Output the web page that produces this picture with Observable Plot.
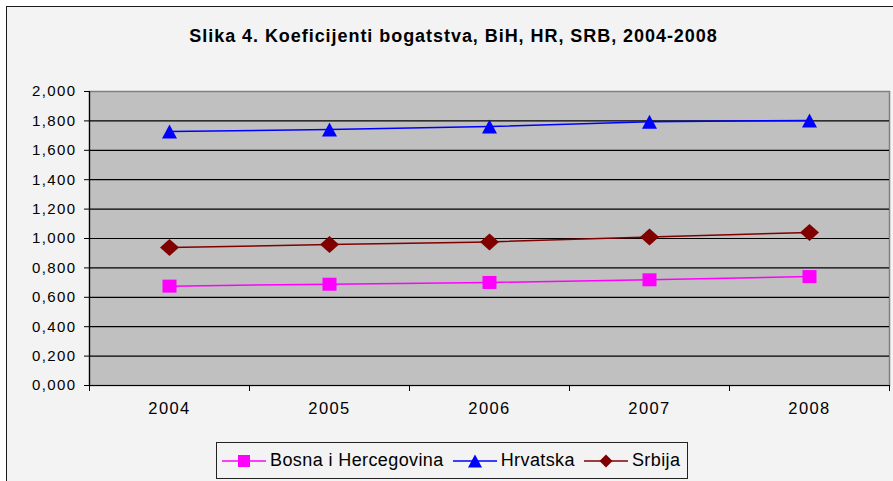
<!DOCTYPE html>
<html>
<head>
<meta charset="utf-8">
<script src="https://cdn.jsdelivr.net/npm/d3@7"></script>
<script src="https://cdn.jsdelivr.net/npm/@observablehq/plot@0.6"></script>
<style>
  html, body { margin: 0; padding: 0; background: #ffffff; width: 893px; height: 481px; overflow: hidden; }
  #frame { position: absolute; left: 6px; top: 6px; width: 900px; height: 490px; border: 1.5px solid #1a1a1a; background: #f3f3f3; box-sizing: border-box; }
  #title { position: absolute; left: 0; top: 26px; width: 907px; text-align: center; font-family: "Liberation Sans", Arial, sans-serif; font-weight: bold; font-size: 18px; letter-spacing: 0.95px; color: #000; }
  #chart { position: absolute; left: 0; top: 0; }
  #chart text { letter-spacing: 1.4px; }
  #legend { position: absolute; left: 216px; top: 442px; width: 472px; height: 37px; border: 1px solid #222; box-sizing: border-box; display: flex; align-items: center; padding-left: 5px; font-family: "Liberation Sans", Arial, sans-serif; font-size: 18px; letter-spacing: 0.4px; color: #000; white-space: nowrap; }
  #legend .item { display: flex; align-items: center; margin-right: 9px; }
  #legend svg { margin-right: 4px; }
</style>
</head>
<body>
<div id="frame"></div>
<div id="title">Slika 4. Koeficijenti bogatstva, BiH, HR, SRB, 2004-2008</div>
<div id="chart"></div>
<div id="legend"></div>
<script>
const years = [2004, 2005, 2006, 2007, 2008];
const bosna = [0.676, 0.689, 0.701, 0.719, 0.741];
const hrvatska = [1.728, 1.741, 1.762, 1.794, 1.803];
const srbija = [0.939, 0.959, 0.977, 1.011, 1.041];
const seriesNames = ["Bosna i Hercegovina", "Hrvatska", "Srbija"];
const seriesColors = ["#ff00ff", "#0000ff", "#800000"];
const yTicks = [0, 0.2, 0.4, 0.6, 0.8, 1.0, 1.2, 1.4, 1.6, 1.8, 2.0];
const xBounds = [2003.5, 2004.5, 2005.5, 2006.5, 2007.5, 2008.5];

// custom marker shapes (half width, half height)
function squareSym(hw, hh) {
  return {draw(ctx) { ctx.moveTo(-hw, -hh); ctx.lineTo(hw, -hh); ctx.lineTo(hw, hh); ctx.lineTo(-hw, hh); ctx.closePath(); }};
}
function triangleSym(hw, hh) {
  return {draw(ctx) { ctx.moveTo(0, -hh); ctx.lineTo(hw, hh); ctx.lineTo(-hw, hh); ctx.closePath(); }};
}
function diamondSym(hw, hh) {
  return {draw(ctx) { ctx.moveTo(0, -hh); ctx.lineTo(hw, 0); ctx.lineTo(0, hh); ctx.lineTo(-hw, 0); ctx.closePath(); }};
}
const plotSymbols = [squareSym(7, 6.5), triangleSym(7.5, 7), diamondSym(9.5, 8.5)];
const legendSymbols = [squareSym(6, 6), triangleSym(7, 6.5), diamondSym(6.5, 6.5)];

const seriesValues = [bosna, hrvatska, srbija];
const data = [];
seriesNames.forEach((name, i) => {
  years.forEach((yr, j) => data.push({series: name, year: yr, value: seriesValues[i][j]}));
});
const colorOf = Object.fromEntries(seriesNames.map((n, i) => [n, seriesColors[i]]));

const fmt = d => d3.format(".3f")(d).replace(".", ",");

const plot = Plot.plot({
  width: 893,
  height: 430,
  marginLeft: 89,
  marginRight: 4,
  marginTop: 91,
  marginBottom: 45,
  style: {fontFamily: "'Liberation Sans', Arial, sans-serif", fontSize: "15px", background: "transparent", color: "#000", overflow: "visible"},
  x: {domain: [2003.5, 2008.5], label: null},
  y: {domain: [0, 2.0], label: null},
  marks: [
    Plot.frame({fill: "#c0c0c0", stroke: "#808080", strokeWidth: 1.5}),
    Plot.ruleY(yTicks.filter(d => d < 2), {stroke: "#000", strokeWidth: 1.2}),
    Plot.ruleX([2003.5], {stroke: "#000", strokeWidth: 1.2}),
    Plot.axisY({ticks: yTicks, tickSize: 5, tickPadding: 8, tickFormat: fmt, fontSize: 15, stroke: "#000", fill: "#000"}),
    Plot.axisX({ticks: xBounds, tickSize: 6, tickFormat: () => "", stroke: "#000"}),
    Plot.axisX({ticks: years, tickSize: 0, tickPadding: 17, tickFormat: d => String(d), fontSize: 16.5, fill: "#000"}),
    Plot.line(data, {x: "year", y: "value", z: "series", stroke: d => colorOf[d.series], strokeWidth: 1.5}),
    ...seriesNames.map((n, i) => Plot.dot(data.filter(d => d.series === n), {x: "year", y: "value", symbol: () => plotSymbols[i], r: 8, fill: colorOf[n], stroke: "none"}))
  ]
});
document.getElementById("chart").appendChild(plot);

// Legend
const legend = document.getElementById("legend");
seriesNames.forEach((n, i) => {
  const item = document.createElement("div");
  item.className = "item";
  const w = 44, h = 20;
  const p = d3.path();
  legendSymbols[i].draw(p, 0);
  item.innerHTML = `<svg width="${w}" height="${h}"><line x1="0" x2="${w}" y1="${h/2}" y2="${h/2}" stroke="${seriesColors[i]}" stroke-width="1.5"/><path d="${p.toString()}" transform="translate(${w/2},${h/2})" fill="${seriesColors[i]}"/></svg><span>${n}</span>`;
  legend.appendChild(item);
});
</script>
</body>
</html>
